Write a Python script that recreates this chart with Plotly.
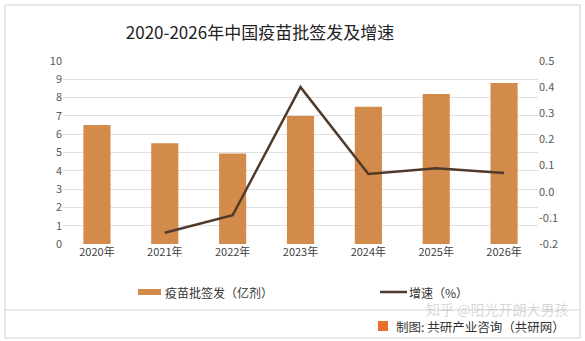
import plotly.graph_objects as go

years = ["2020年", "2021年", "2022年", "2023年", "2024年", "2025年", "2026年"]
vaccine = [6.5, 5.5, 4.95, 7.0, 7.5, 8.2, 8.8]
growth_years = ["2021年", "2022年", "2023年", "2024年", "2025年", "2026年"]
growth = [-0.157, -0.09, 0.40, 0.068, 0.09, 0.072]
left_ticks = list(range(0, 11))
right_ticks = [-0.2, -0.1, 0.0, 0.1, 0.2, 0.3, 0.4, 0.5]
right_labels = ["-0.2", "-0.1", "0.0", "0.1", "0.2", "0.3", "0.4", "0.5"]

FONT = "Noto Sans CJK SC, Microsoft YaHei, sans-serif"
BAR_COLOR = "#D38B4C"
LINE_COLOR = "#4F3A2C"

L, R, T, B = 63, 538, 61, 244
PW, PH = R - L, B - T


def px(x):
    return (x - L) / PW


def py(y):
    return (B - y) / PH


fig = go.Figure()
fig.add_trace(go.Bar(x=years, y=vaccine, name="疫苗批签发（亿剂）",
                     marker=dict(color=BAR_COLOR, line=dict(width=0)), width=0.4))
fig.add_trace(go.Scatter(x=growth_years, y=growth, name="增速（%）", yaxis="y2",
                         mode="lines", line=dict(color=LINE_COLOR, width=2.5)))

fig.update_layout(
    width=585, height=341,
    margin=dict(l=L, r=585 - R, t=T, b=341 - B),
    paper_bgcolor="white", plot_bgcolor="white",
    font=dict(family=FONT, size=11, color="#595959"),
    title=dict(text="2020-2026年中国疫苗批签发及增速", x=260 / 585, xanchor="center",
               y=1 - 33 / 341, yanchor="middle",
               font=dict(size=17, color="#222222", family=FONT)),
    xaxis=dict(showgrid=False, showline=False, ticks="", tickfont=dict(size=11, color="#404040")),
    yaxis=dict(range=[0, 10], tickvals=left_ticks, showgrid=True, gridcolor="#E0E0E0",
               gridwidth=1, zeroline=False, showline=False, ticks="",
               tickfont=dict(size=11, color="#595959")),
    yaxis2=dict(range=[-0.2, 0.5], tickvals=right_ticks, ticktext=right_labels,
                overlaying="y", side="right", showgrid=False, zeroline=False,
                showline=False, tickfont=dict(size=11, color="#595959")),
    showlegend=False,
)

# manual legend
fig.add_shape(type="rect", xref="paper", yref="paper",
              x0=px(138), x1=px(161), y0=py(295), y1=py(289),
              line=dict(width=0), fillcolor=BAR_COLOR)
fig.add_annotation(text="疫苗批签发（亿剂）", xref="paper", yref="paper",
                   x=px(163), y=py(292), xanchor="left", yanchor="middle",
                   showarrow=False, font=dict(size=12, color="#333333", family=FONT))
fig.add_shape(type="line", xref="paper", yref="paper",
              x0=px(380), x1=px(407), y0=py(292), y1=py(292),
              line=dict(color=LINE_COLOR, width=2.5))
fig.add_annotation(text="增速（%）", xref="paper", yref="paper",
                   x=px(407), y=py(292), xanchor="left", yanchor="middle",
                   showarrow=False, font=dict(size=12, color="#333333", family=FONT))

# frame and separator
fig.add_shape(type="rect", xref="paper", yref="paper",
              x0=px(5), x1=px(580), y0=py(338), y1=py(5),
              line=dict(color="#D0D0D0", width=1))
fig.add_shape(type="line", xref="paper", yref="paper",
              x0=px(5), x1=px(580), y0=py(310), y1=py(310),
              line=dict(color="#D9D9D9", width=1))
# faint watermark
fig.add_annotation(text="知乎 @阳光开朗大男孩", xref="paper", yref="paper",
                   x=px(570), y=py(309), xanchor="right", yanchor="middle",
                   showarrow=False, font=dict(size=14, color="rgba(175,175,175,0.5)", family=FONT))
# source icon
fig.add_shape(type="rect", xref="paper", yref="paper",
              x0=px(378), x1=px(388), y0=py(331), y1=py(321),
              line=dict(width=0), fillcolor="#E8702A")
fig.add_annotation(text="制图: 共研产业咨询（共研网）", xref="paper", yref="paper",
                   x=px(567), y=py(326.5), xanchor="right", yanchor="middle",
                   showarrow=False, font=dict(size=12.5, color="#333333", family=FONT))

fig.write_html("out.html")
